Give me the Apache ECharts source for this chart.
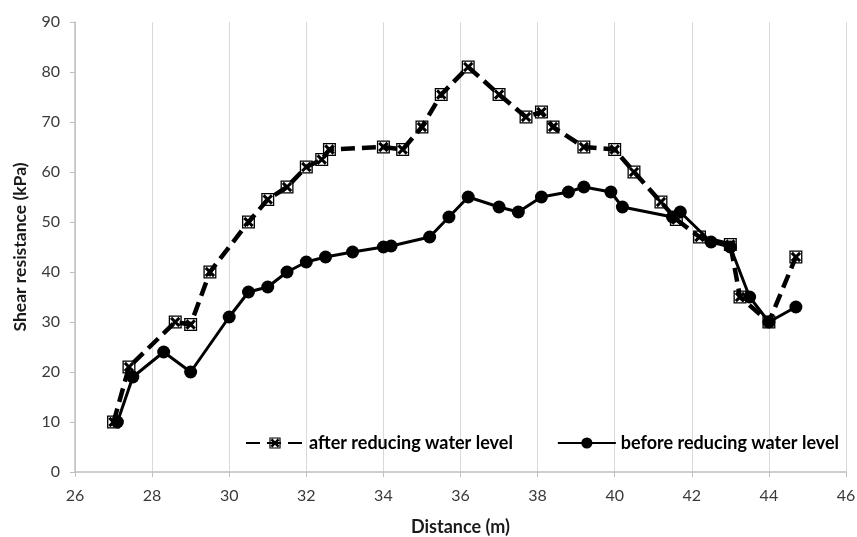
<!DOCTYPE html>
<html><head><meta charset="utf-8">
<script src="https://cdn.jsdelivr.net/npm/echarts@6/dist/echarts.min.js"></script>
<style>html,body{margin:0;padding:0;background:#fff}#c{width:857px;height:537px}</style>
</head><body><div id="c"></div>
<script>
const afterX = [27.0, 27.4, 28.6, 29.0, 29.5, 30.5, 31.0, 31.5, 32.0, 32.4, 32.6, 34.0, 34.5, 35.0, 35.5, 36.2, 37.0, 37.7, 38.1, 38.4, 39.2, 40.0, 40.5, 41.2, 41.6, 42.2, 43.0, 43.25, 44.0, 44.7];
const afterY = [10, 21, 30, 29.5, 40, 50, 54.5, 57, 61, 62.5, 64.5, 65, 64.5, 69, 75.5, 81, 75.5, 71, 72, 69, 65, 64.5, 60, 54, 50.5, 47, 45.5, 35, 30, 43];
const beforeX = [27.1, 27.5, 28.3, 29.0, 30.0, 30.5, 31.0, 31.5, 32.0, 32.5, 33.2, 34.0, 34.2, 35.2, 35.7, 36.2, 37.0, 37.5, 38.1, 38.8, 39.2, 39.9, 40.2, 41.5, 41.7, 42.5, 43.0, 43.5, 44.0, 44.7];
const beforeY = [10, 19, 24, 20, 31, 36, 37, 40, 42, 43, 44, 45, 45.2, 47, 51, 55, 53, 52, 55, 56, 57, 56, 53, 51, 52, 46, 45, 35, 30, 33];
const xTicks = [26, 28, 30, 32, 34, 36, 38, 40, 42, 44, 46];
const yTicks = [0, 10, 20, 30, 40, 50, 60, 70, 80, 90];
const seriesNames = ['after reducing water level', 'before reducing water level'];

const pair = (xs, ys) => xs.map((x, i) => [x, ys[i]]);
const xSym = 'path://M0,0 H10 V10 H0 Z M1,1 V9 H9 V1 Z M1,2.6 L2.6,1 L9,7.4 L7.4,9 Z M7.4,1 L9,2.6 L2.6,9 L1,7.4 Z';
const font = 'Lato, "Open Sans", sans-serif';

const chart = echarts.init(document.getElementById('c'), null, {renderer: 'canvas'});
chart.setOption({
  animation: false,
  backgroundColor: '#fff',
  grid: {left: 75, right: 11, top: 22, bottom: 65, containLabel: false, outerBoundsMode: 'none'},
  legend: {
    left: 245, top: 434, padding: 0,
    itemWidth: 58, itemHeight: 14, itemGap: 44,
    textStyle: {fontFamily: font, fontWeight: 'bold', fontSize: 18, color: '#000'},
    data: [seriesNames[0], seriesNames[1]]
  },
  xAxis: {
    type: 'value', min: xTicks[0], max: xTicks[xTicks.length - 1], interval: 2,
    name: 'Distance (m)', nameLocation: 'middle', nameGap: 46,
    nameTextStyle: {fontFamily: font, fontWeight: 'bold', fontSize: 18, color: '#1a1a1a'},
    axisLine: {lineStyle: {color: '#bfbfbf', width: 1.5}},
    axisTick: {show: true, length: 5, lineStyle: {color: '#bfbfbf'}},
    axisLabel: {margin: 16, fontFamily: font, fontSize: 16, color: '#3a3a3a'},
    splitLine: {show: true, lineStyle: {color: '#d9d9d9', width: 1}}
  },
  yAxis: {
    type: 'value', min: yTicks[0], max: yTicks[yTicks.length - 1], interval: 10,
    name: 'Shear resistance (kPa)', nameLocation: 'middle', nameGap: 46,
    nameTextStyle: {fontFamily: font, fontWeight: 'bold', fontSize: 17.5, color: '#1a1a1a'},
    axisLine: {show: true, lineStyle: {color: '#bfbfbf', width: 1.5}},
    axisTick: {show: true, length: 5, lineStyle: {color: '#bfbfbf'}},
    axisLabel: {margin: 15, fontFamily: font, fontSize: 16, color: '#3a3a3a'},
    splitLine: {show: false}
  },
  series: [
    {
      name: seriesNames[0], type: 'line', data: pair(afterX, afterY),
      symbol: xSym, symbolSize: 13, showAllSymbol: true,
      lineStyle: {color: '#000', width: 4.5, type: [14, 7]},
      itemStyle: {color: '#000'}, z: 3
    },
    {
      name: seriesNames[1], type: 'line', data: pair(beforeX, beforeY),
      symbol: 'circle', symbolSize: 13, showAllSymbol: true,
      lineStyle: {color: '#000', width: 3},
      itemStyle: {color: '#000'}, z: 2
    }
  ]
});
</script></body></html>
